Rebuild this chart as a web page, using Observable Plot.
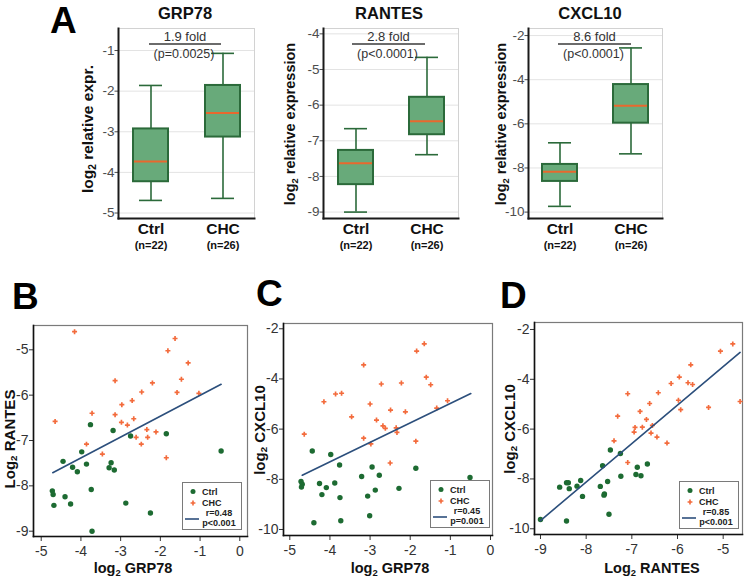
<!DOCTYPE html>
<html>
<head>
<meta charset="utf-8">
<script src="https://cdn.jsdelivr.net/npm/d3@7"></script>
<script src="https://cdn.jsdelivr.net/npm/@observablehq/plot@0.6"></script>
<style>
  html, body { margin: 0; padding: 0; background: #fff; }
  #fig { position: relative; width: 745px; height: 577px; overflow: hidden; background: #fff;
         font-family: "Liberation Sans", Arial, Helvetica, sans-serif; color: #111; }
  #fig > * { position: absolute; }
  .letter { font-size: 37px; font-weight: bold; line-height: 1; color: #000; }
  .ctr { transform: translate(-50%, -50%); white-space: nowrap; line-height: 1; }
  .rot { transform: translate(-50%, -50%) rotate(-90deg); white-space: nowrap; line-height: 1; font-weight: bold; }
  .bold { font-weight: bold; }
  sub { font-size: 0.65em; vertical-align: -0.3em; line-height: 0; }
</style>
</head>
<body>
<div id="fig"></div>
<script>
// ---------------- data ----------------
const groups = ["Ctrl", "CHC"];
const groupN = ["(n=22)", "(n=26)"];
const boxTitles = ["GRP78", "RANTES", "CXCL10"];
const foldTexts = ["1.9 fold", "2.8 fold", "8.6 fold"];
const pTexts = ["(p=0.0025)", "(p<0.0001)", "(p<0.0001)"];
// [lower whisker, Q1, median, Q3, upper whisker] for Ctrl, CHC
const grp78Box = [[-4.69, -4.23, -3.73, -2.93, -1.86], [-4.64, -3.13, -2.54, -1.86, -1.07]];
const rantesBox = [[-9.0, -8.23, -7.63, -7.27, -6.66], [-7.39, -6.83, -6.45, -5.78, -4.66]];
const cxcl10Box = [[-9.74, -8.61, -8.17, -7.84, -6.86], [-7.36, -5.97, -5.18, -4.22, -2.56]];
const grp78BoxTicks = [-5, -4, -3, -2, -1];
const rantesBoxTicks = [-9, -8, -7, -6, -5, -4];
const cxcl10BoxTicks = [-10, -8, -6, -4, -2];

// Panel B: log2 GRP78 (x) vs log2 RANTES (y)
const bCtrlX = [-3.76, -3.19, -2.75, -1.85, -0.47, -3.98, -4.45, -4.21, -4.09, -3.86, -3.24, -3.29, -3.16, -4.72, -4.70, -4.68, -4.40, -3.74, -4.26, -2.87, -2.25, -3.72];
const bCtrlY = [-6.65, -6.78, -6.90, -6.85, -7.23, -7.25, -7.46, -7.59, -7.69, -7.52, -7.49, -7.60, -7.65, -8.11, -8.19, -8.43, -8.24, -8.08, -8.40, -8.38, -8.60, -9.00];
const bChcX = [-4.16, -1.63, -1.81, -1.30, -1.47, -3.14, -2.20, -2.47, -1.58, -1.03, -2.71, -2.97, -4.65, -3.72, -3.14, -2.98, -2.67, -2.83, -2.34, -2.11, -2.61, -2.32, -3.86, -2.48, -3.46, -1.85];
const bChcY = [-4.60, -4.75, -5.02, -5.29, -5.65, -5.68, -5.73, -5.93, -5.94, -5.96, -6.12, -6.21, -6.58, -6.40, -6.43, -6.60, -6.52, -6.66, -6.76, -6.81, -6.93, -6.93, -7.08, -7.08, -7.30, -7.38];
const bFitX = [-4.71, -0.47];
const bFitY = [-7.71, -5.76];

// Panel C: log2 GRP78 (x) vs log2 CXCL10 (y)
const cCtrlX = [-4.44, -3.98, -3.76, -2.95, -1.86, -3.21, -2.77, -0.51, -4.72, -4.69, -4.71, -4.26, -3.88, -4.09, -4.20, -2.87, -2.28, -3.06, -3.75, -4.40, -3.73, -3.01];
const cCtrlY = [-6.87, -7.01, -7.43, -7.51, -7.56, -7.89, -7.84, -7.93, -8.09, -8.20, -8.31, -8.17, -8.15, -8.33, -8.61, -8.43, -8.36, -8.67, -8.73, -9.73, -9.65, -9.45];
const cChcX = [-1.65, -1.84, -3.16, -1.60, -2.22, -2.72, -1.49, -3.86, -3.71, -4.15, -1.07, -3.00, -1.34, -2.49, -2.12, -3.46, -2.84, -2.68, -2.62, -2.35, -2.33, -4.64, -3.16, -1.86, -2.98, -2.50];
const cChcY = [-2.60, -2.89, -3.44, -3.93, -4.16, -4.20, -4.23, -4.60, -4.57, -4.91, -4.87, -5.00, -5.16, -5.24, -5.31, -5.51, -5.64, -5.87, -5.97, -5.95, -6.13, -6.20, -6.36, -6.48, -6.59, -7.35];
const cFitX = [-4.69, -0.49];
const cFitY = [-7.84, -4.58];

// Panel D: log2 RANTES (x) vs log2 CXCL10 (y)
const dCtrlX = [-7.47, -7.25, -7.64, -6.88, -6.66, -7.24, -6.91, -6.80, -8.58, -8.43, -8.39, -8.37, -8.20, -8.12, -8.08, -7.69, -7.53, -7.60, -7.61, -7.50, -8.43, -9.00];
const dCtrlY = [-6.84, -6.98, -7.47, -7.53, -7.40, -7.89, -7.82, -7.87, -8.33, -8.15, -8.15, -8.39, -8.29, -8.06, -8.70, -8.30, -8.10, -8.60, -8.65, -9.42, -9.69, -9.63];
const dChcX = [-4.79, -5.06, -5.71, -5.96, -5.77, -5.67, -6.14, -6.42, -7.09, -4.63, -5.98, -6.61, -5.32, -5.93, -6.82, -7.31, -6.68, -6.93, -6.77, -6.55, -6.95, -6.58, -7.39, -6.45, -6.23, -7.09];
const dChcY = [-2.58, -2.87, -3.42, -3.91, -4.14, -4.21, -4.17, -4.54, -4.58, -4.89, -4.84, -4.97, -5.13, -5.22, -5.29, -5.48, -5.61, -5.93, -5.92, -5.85, -6.12, -6.16, -6.47, -6.32, -6.56, -7.34];
const dFitX = [-9.0, -4.63];
const dFitY = [-9.67, -2.92];

const grpTicks = [-5, -4, -3, -2, -1, 0];
const rantesTicksB = [-9, -8, -7, -6, -5];
const rantesTicksD = [-9, -8, -7, -6, -5];
const cxclTicks = [-10, -8, -6, -4, -2];
const legendR = ["r=0.48", "r=0.45", "r=0.85"];
const legendP = ["p<0.001", "p=0.001", "p<0.001"];

// ---------------- styling ----------------
const FONT = "Liberation Sans, Arial, Helvetica, sans-serif";
const boxFill = "#68aa7a", boxStroke = "#2b6a3a", medianColor = "#e8682e";
const ctrlColor = "#1d6b32", chcColor = "#f36b3c", fitColor = "#2c4f7c";
const fmt = d => `${d}`;

const fig = document.getElementById("fig");
function put(el, left, top) {
  el.style.left = left + "px";
  el.style.top = top + "px";
  fig.appendChild(el);
  return el;
}
function label(cls, inner, left, top, css = "") {
  const d = document.createElement("div");
  d.className = cls;
  d.innerHTML = inner;
  if (css) d.style.cssText = css;
  return put(d, left, top);
}

// ---------------- panel A: box plots ----------------
function boxPanel(stats, ticks, yDomain, x0, x1) {
  const rows = groups.map((g, i) => ({
    g, n: groupN[i], lo: stats[i][0], q1: stats[i][1], med: stats[i][2], q3: stats[i][3], hi: stats[i][4]
  }));
  const ml = 40, mr = 6, mt = 28, mb = 42, H = 260;
  const chart = Plot.plot({
    width: (x1 - x0) + ml + mr, height: H,
    marginLeft: ml, marginRight: mr, marginTop: mt, marginBottom: mb,
    style: {fontFamily: FONT, background: "transparent", overflow: "visible"},
    x: {type: "band", domain: groups, paddingInner: 0.514, paddingOuter: 0.2, axis: null},
    y: {domain: yDomain, axis: null},
    marks: [
      Plot.gridY(ticks, {stroke: "#e3e3e3", strokeOpacity: 1}),
      Plot.frame({stroke: "#d2d2d2"}),
      Plot.ruleX(rows, {x: "g", y1: "lo", y2: "hi", stroke: boxStroke, strokeWidth: 1.6}),
      Plot.tickY(rows, {x: "g", y: "lo", stroke: boxStroke, strokeWidth: 1.6, insetLeft: 6, insetRight: 6}),
      Plot.tickY(rows, {x: "g", y: "hi", stroke: boxStroke, strokeWidth: 1.6, insetLeft: 6, insetRight: 6}),
      Plot.barY(rows, {x: "g", y1: "q1", y2: "q3", fill: boxFill, stroke: boxStroke, strokeWidth: 2}),
      Plot.tickY(rows, {x: "g", y: "med", stroke: medianColor, strokeWidth: 2, insetLeft: 1, insetRight: 1}),
      Plot.axisY(ticks, {tickSize: 3.5, tickPadding: 0.5, fontSize: 13.5, color: "#4d4d4d", tickFormat: fmt, label: null}),
      Plot.frame({anchor: "left", stroke: "#1a1a1a", strokeWidth: 2}),
      Plot.frame({anchor: "bottom", stroke: "#1a1a1a", strokeWidth: 2}),
      Plot.text(rows, {x: "g", text: "g", frameAnchor: "bottom", dy: 15, fontSize: 15.5, fontWeight: "bold", fill: "#111"}),
      Plot.text(rows, {x: "g", text: "n", frameAnchor: "bottom", dy: 30, fontSize: 11, fontWeight: "bold", fill: "#111"})
    ]
  });
  put(chart, x0 - ml, 0);
}

boxPanel(grp78Box, grp78BoxTicks, [-5.135, -0.458], 118, 254);
boxPanel(rantesBox, rantesBoxTicks, [-9.18, -3.85], 323, 458);
boxPanel(cxcl10Box, cxcl10BoxTicks, [-10.29, -1.68], 528, 662);

// titles, annotations
const titleX = [185, 389, 590];
boxTitles.forEach((t, i) => label("ctr bold", t, titleX[i], 12.5, "font-size:16.5px;color:#111;"));
const bracket = [[149, 221], [352, 425], [558, 631]];
foldTexts.forEach((t, i) => {
  const cx = (bracket[i][0] + bracket[i][1]) / 2;
  label("ctr", t, cx, 35.5, "font-size:13px;color:#333;");
  label("ctr", pTexts[i], cx - 1, 54, "font-size:12.5px;color:#333;");
  const ln = document.createElement("div");
  ln.style.cssText = `width:${bracket[i][1] - bracket[i][0]}px;height:0;border-top:2px solid #6b6b6b;`;
  put(ln, bracket[i][0], 43);
});
label("rot", "log<sub>2</sub> relative expr.", 88, 129, "font-size:15.5px;");
label("rot", "log<sub>2</sub> relative expression", 290, 123.5, "font-size:14.5px;");
label("rot", "log<sub>2</sub> relative expression", 501, 124, "font-size:14.5px;");

// ---------------- panels B, C, D: scatter plots ----------------
function scatterPanel(p) {
  const ml = 30, mr = 4, mt = 10, mb = 34;
  const ctrl = p.ctrlX.map((x, i) => ({x, y: p.ctrlY[i]}));
  const chc = p.chcX.map((x, i) => ({x, y: p.chcY[i]}));
  const fit = p.fitX.map((x, i) => ({x, y: p.fitY[i]}));
  const chart = Plot.plot({
    width: (p.x1 - p.x0) + ml + mr, height: (p.y1 - p.y0) + mt + mb,
    marginLeft: ml, marginRight: mr, marginTop: mt, marginBottom: mb,
    style: {fontFamily: FONT, background: "transparent", overflow: "visible"},
    x: {domain: p.xDomain, axis: null},
    y: {domain: p.yDomain, axis: null},
    marks: [
      Plot.frame({stroke: "#7a7a7a", strokeWidth: 1.2}),
      Plot.dot(ctrl, {x: "x", y: "y", r: 2.7, fill: ctrlColor}),
      Plot.dot(chc, {x: "x", y: "y", r: 2.1, symbol: "cross", fill: chcColor}),
      Plot.line(fit, {x: "x", y: "y", stroke: fitColor, strokeWidth: 1.6}),
      Plot.axisX(p.xTicks, {tickSize: 5, tickPadding: 5, fontSize: 14, color: "#333", tickFormat: fmt, label: null}),
      Plot.axisY(p.yTicks, {tickSize: 4, tickPadding: 1, fontSize: 14, color: "#333", tickFormat: fmt, label: null}),
      Plot.frame({anchor: "left", stroke: "#111", strokeWidth: 1.6}),
      Plot.frame({anchor: "bottom", stroke: "#111", strokeWidth: 1.6})
    ]
  });
  put(chart, p.x0 - ml, p.y0 - mt);
}

function legendBox(left, top, rText, pText) {
  const w = 60, h = 48;
  const svg = d3.create("svg").attr("width", w).attr("height", h)
    .attr("font-family", FONT).attr("font-size", 9).attr("font-weight", "bold").attr("fill", "#222");
  svg.append("rect").attr("x", 0.5).attr("y", 0.5).attr("width", w - 1).attr("height", h - 1)
    .attr("fill", "#fff").attr("stroke", "#7a7a7a");
  svg.append("circle").attr("cx", 11).attr("cy", 9.5).attr("r", 2.5).attr("fill", ctrlColor);
  svg.append("path").attr("d", d3.symbol(d3.symbolCross, 13)()).attr("transform", "translate(11,21)").attr("fill", chcColor);
  svg.append("text").attr("x", 20).attr("y", 9.5).attr("dy", "0.35em").text(groups[0]);
  svg.append("text").attr("x", 20).attr("y", 21).attr("dy", "0.35em").text(groups[1]);
  svg.append("line").attr("x1", 3).attr("x2", 17).attr("y1", 37).attr("y2", 37).attr("stroke", fitColor).attr("stroke-width", 1.6);
  svg.append("text").attr("x", 37).attr("y", 31).attr("dy", "0.35em").attr("text-anchor", "middle").text(rText);
  svg.append("text").attr("x", 37).attr("y", 41).attr("dy", "0.35em").attr("text-anchor", "middle").text(pText);
  put(svg.node(), left, top);
}

scatterPanel({ctrlX: bCtrlX, ctrlY: bCtrlY, chcX: bChcX, chcY: bChcY, fitX: bFitX, fitY: bFitY,
  xDomain: [-5.194, 0.194], yDomain: [-9.117, -4.464], xTicks: grpTicks, yTicks: rantesTicksB,
  x0: 33, x1: 247, y0: 325, y1: 536});
scatterPanel({ctrlX: cCtrlX, ctrlY: cCtrlY, chcX: cChcX, chcY: cChcY, fitX: cFitX, fitY: cFitY,
  xDomain: [-5.157, 0.05], yDomain: [-10.24, -1.79], xTicks: grpTicks, yTicks: cxclTicks,
  x0: 283, x1: 492, y0: 323, y1: 535});
scatterPanel({ctrlX: dCtrlX, ctrlY: dCtrlY, chcX: dChcX, chcY: dChcY, fitX: dFitX, fitY: dFitY,
  xDomain: [-9.131, -4.577], yDomain: [-10.23, -1.72], xTicks: rantesTicksD, yTicks: cxclTicks,
  x0: 534, x1: 742, y0: 322, y1: 534});

legendBox(182, 482, legendR[0], legendP[0]);
legendBox(430, 480, legendR[1], legendP[1]);
legendBox(679, 481, legendR[2], legendP[2]);

label("rot", "Log<sub>2</sub> RANTES", 8.5, 439, "font-size:15px;");
label("rot", "log<sub>2</sub> CXCL10", 258.5, 430, "font-size:15px;");
label("rot", "log<sub>2</sub> CXCL10", 508.5, 429, "font-size:15px;");
label("ctr bold", "log<sub>2</sub> GRP78", 133, 567.5, "font-size:14.5px;");
label("ctr bold", "log<sub>2</sub> GRP78", 390, 567.5, "font-size:14.5px;");
label("ctr bold", "Log<sub>2</sub> RANTES", 652, 567.5, "font-size:14.5px;");

// panel letters
label("letter", "A", 50, 2.3);
label("letter", "B", 12, 278);
label("letter", "C", 256, 275);
label("letter", "D", 500, 277);
</script>
</body>
</html>
